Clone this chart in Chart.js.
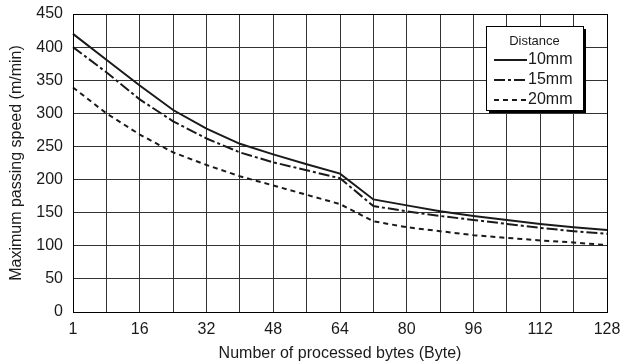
<!DOCTYPE html>
<html>
<head>
<meta charset="utf-8">
<script src="https://cdn.jsdelivr.net/npm/chart.js@4/dist/chart.umd.min.js"></script>
<style>
  html, body { margin: 0; padding: 0; background: #fff; }
  #wrap { width: 623px; height: 364px; position: relative; }
</style>
</head>
<body>
<div id="wrap"><canvas id="c" width="623" height="364"></canvas></div>
<script>
// Number of processed bytes (category positions, every 8 bytes)
const categories = ['1','8','16','24','32','40','48','56','64','72','80','88','96','104','112','120','128'];
const tickLabels = ['1','16','32','48','64','80','96','112','128'];
const legendTitle = 'Distance';
const seriesNames = ['10mm','15mm','20mm'];
const speed10mm = [420, 381, 342, 305, 277, 254, 238, 223, 209, 170, 161, 152, 145, 139, 133, 128, 124];
const speed15mm = [400, 362, 321, 288, 262, 241, 226, 214, 202, 160, 152, 145, 139, 133, 127, 122, 118];
const speed20mm = [339, 300, 268, 241, 222, 205, 191, 177, 163, 137, 128, 122, 116, 112, 108, 105, 101];
const yTicks = [0, 50, 100, 150, 200, 250, 300, 350, 400, 450];

const FONT = '"Liberation Sans", Arial, Helvetica, sans-serif';
const INK = '#1a1a1a';
const dashes = [[], [11, 3, 3, 3], [5, 4]];

const legendPlugin = {
  id: 'boxLegend',
  afterDraw(chart) {
    const ctx = chart.ctx;
    const x = 486, y = 26, w = 97, h = 84;
    ctx.save();
    ctx.fillStyle = '#000';
    ctx.fillRect(x + 3, y + 3, w, h);
    ctx.fillStyle = '#fff';
    ctx.fillRect(x, y, w, h);
    ctx.strokeStyle = '#000';
    ctx.lineWidth = 1;
    ctx.strokeRect(x + 0.5, y + 0.5, w, h);
    ctx.fillStyle = INK;
    ctx.font = '13px ' + FONT;
    ctx.textAlign = 'center';
    ctx.textBaseline = 'middle';
    ctx.fillText(legendTitle, x + w / 2, y + 15);
    chart.data.datasets.forEach((ds, i) => {
      const ly = y + 34 + i * 20;
      ctx.beginPath();
      ctx.setLineDash(ds.borderDash || []);
      ctx.lineWidth = 2;
      ctx.strokeStyle = INK;
      ctx.moveTo(x + 8, ly);
      ctx.lineTo(x + 41, ly);
      ctx.stroke();
      ctx.setLineDash([]);
      ctx.font = '16px ' + FONT;
      ctx.textAlign = 'left';
      ctx.fillText(ds.label, x + 42, ly);
    });
    ctx.restore();
  }
};

new Chart(document.getElementById('c'), {
  type: 'line',
  data: {
    labels: categories,
    datasets: [speed10mm, speed15mm, speed20mm].map((d, i) => ({
      label: seriesNames[i],
      data: d,
      borderColor: INK,
      borderWidth: 2,
      borderDash: dashes[i],
      pointRadius: 0,
      fill: false,
      tension: 0
    }))
  },
  options: {
    responsive: false,
    animation: false,
    layout: { padding: { left: 7, right: 16, top: 14, bottom: 1 } },
    plugins: { legend: { display: false }, tooltip: { enabled: false } },
    scales: {
      x: {
        type: 'category',
        offset: false,
        grid: { color: '#333', lineWidth: 1, drawTicks: false },
        border: { color: '#000', width: 1 },
        ticks: {
          autoSkip: false, maxRotation: 0, padding: 8,
          color: INK, font: { family: FONT, size: 16 },
          callback: function(v, i) { const l = categories[i]; return tickLabels.includes(l) ? l : ''; }
        },
        title: { display: true, text: 'Number of processed bytes (Byte)', color: INK,
                 font: { family: FONT, size: 16 }, padding: { top: 8, bottom: 0 } },
        afterFit(s) { s.height = 51; s.paddingLeft = 0; s.paddingRight = 0; }
      },
      y: {
        min: 0, max: 450,
        grid: { color: '#333', lineWidth: 1, drawTicks: false },
        border: { color: '#000', width: 1 },
        afterBuildTicks(s) { s.ticks = yTicks.map(v => ({ value: v })); },
        ticks: { color: INK, font: { family: FONT, size: 16 }, padding: 10 },
        title: { display: true, text: 'Maximum passing speed (m/min)', color: INK,
                 font: { family: FONT, size: 16 }, padding: { top: 0, bottom: 0 } },
        afterFit(s) { s.width = 66; s.paddingTop = 0; s.paddingBottom = 0; }
      }
    }
  },
  plugins: [legendPlugin, {
    id: 'frame',
    afterDatasetsDraw(chart) {
      const a = chart.chartArea, ctx = chart.ctx;
      ctx.save();
      ctx.strokeStyle = '#000'; ctx.lineWidth = 1;
      ctx.strokeRect(Math.round(a.left) + 0.5, Math.round(a.top) + 0.5, Math.round(a.right - a.left), Math.round(a.bottom - a.top));
      ctx.restore();
    }
  }]
});
</script>
</body>
</html>
